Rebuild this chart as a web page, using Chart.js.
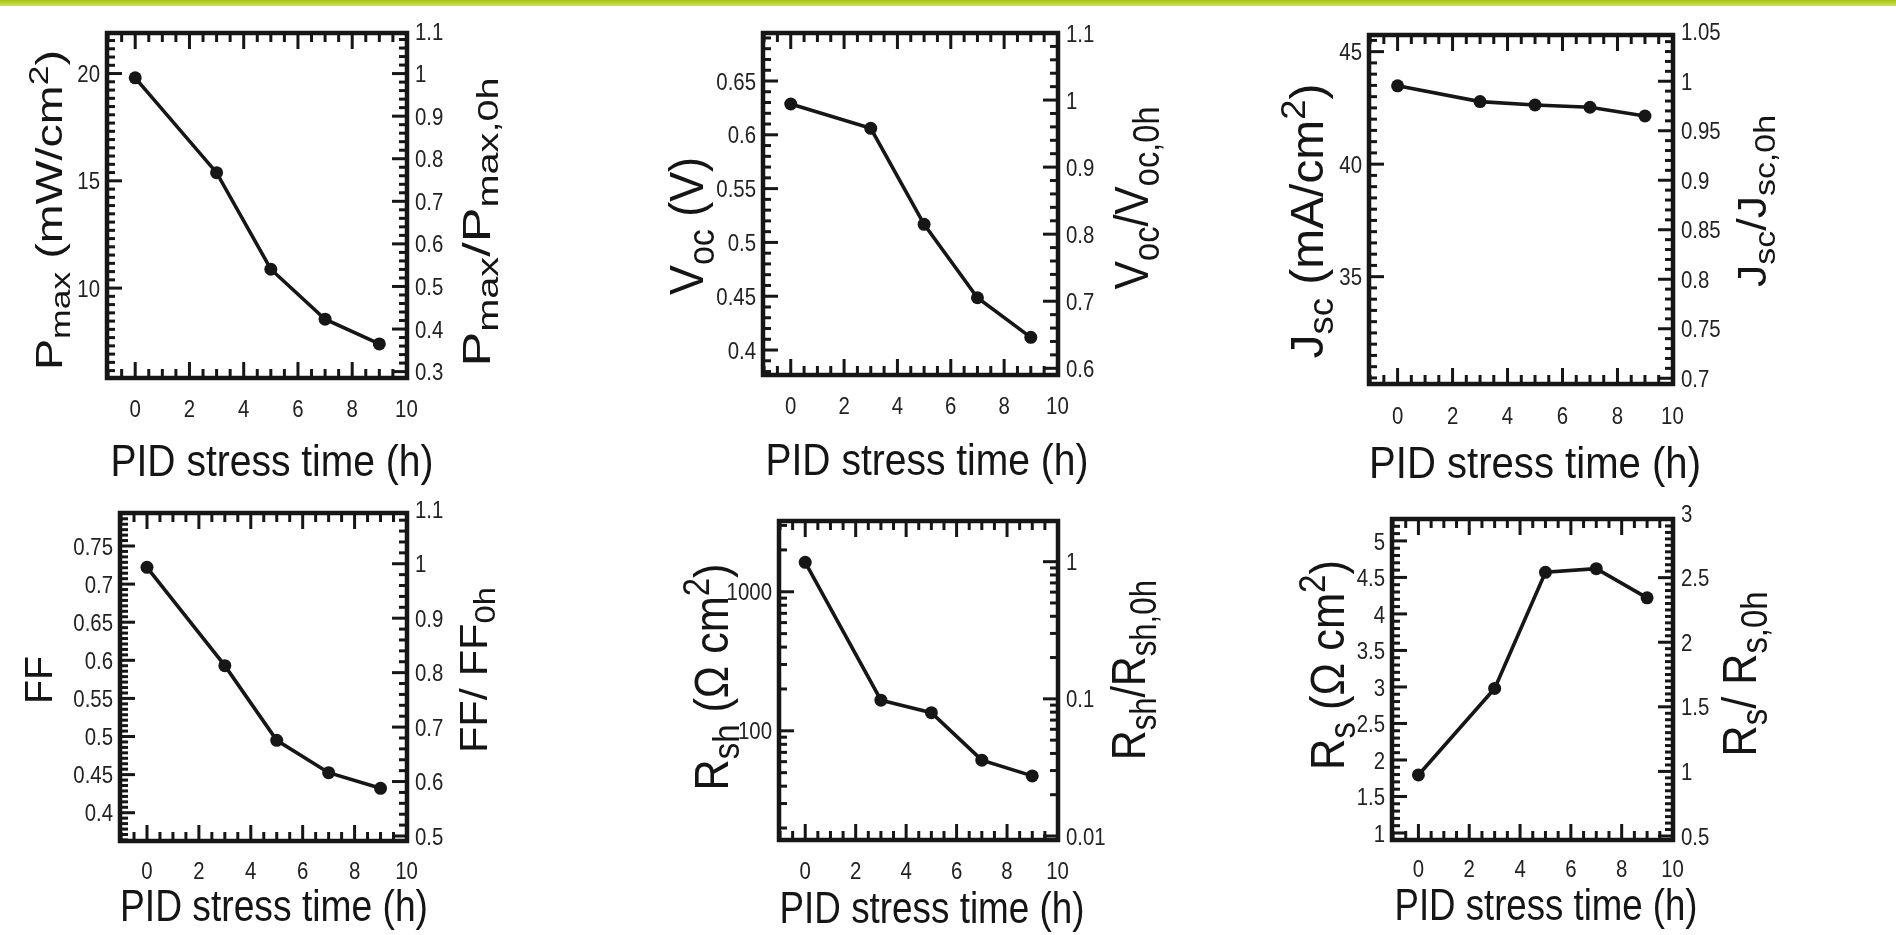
<!DOCTYPE html>
<html>
<head>
<meta charset="utf-8">
<script src="https://cdn.jsdelivr.net/npm/chart.js@4.4.1/dist/chart.umd.min.js"></script>
<style>
  html, body { margin: 0; padding: 0; background: #fff; width: 1896px; height: 935px; overflow: hidden; }
  .topbar { position: absolute; left: 0; top: 0; width: 1896px; height: 6px; background: linear-gradient(#a6c412, #cfe25e); }
  canvas { position: absolute; left: 0; top: 0; }
</style>
</head>
<body>
<div class="topbar"></div>
<canvas id="pmax"></canvas>
<canvas id="voc"></canvas>
<canvas id="jsc"></canvas>
<canvas id="ff"></canvas>
<canvas id="rsh"></canvas>
<canvas id="rs"></canvas>
<script>
const W = 1896, H = 935;
const FONT = '"Liberation Sans", Arial, Helvetica, sans-serif';
const INK = '#161616';

// PID stress time of the measurements (h)
const hours = [0, 3, 5, 7, 9];

const pmax = [19.8, 15.38, 10.88, 8.55, 7.4];        // mW/cm2
const voc = [0.6286, 0.606, 0.5168, 0.4486, 0.4118];  // V
const jsc = [43.48, 42.78, 42.63, 42.53, 42.14];      // mA/cm2
const ff = [0.722, 0.593, 0.495, 0.4525, 0.432];
const rsh = [1627, 166, 135, 61.5, 47.4];             // ohm cm2
const rs = [1.795, 2.98, 4.57, 4.62, 4.22];           // ohm cm2

// tick labels
const timeTicks = [0, 2, 4, 6, 8, 10];
const pmaxTicks = [10, 15, 20];
const pmaxNormTicks = [0.3, 0.4, 0.5, 0.6, 0.7, 0.8, 0.9, 1, 1.1];
const vocTicks = [0.4, 0.45, 0.5, 0.55, 0.6, 0.65];
const vocNormTicks = [0.6, 0.7, 0.8, 0.9, 1, 1.1];
const jscTicks = [35, 40, 45];
const jscNormTicks = [0.7, 0.75, 0.8, 0.85, 0.9, 0.95, 1, 1.05];
const ffTicks = [0.4, 0.45, 0.5, 0.55, 0.6, 0.65, 0.7, 0.75];
const ffNormTicks = [0.5, 0.6, 0.7, 0.8, 0.9, 1, 1.1];
const rshTicks = [100, 1000];
const rshNormTicks = [0.01, 0.1, 1];
const rsTicks = [1, 1.5, 2, 2.5, 3, 3.5, 4, 4.5, 5];
const rsNormTicks = [0.5, 1, 1.5, 2, 2.5, 3];

const X_MIN = -1.04, X_MAX = 10.02;

// layout of the six panels (pixel boxes, axis ranges, titles)
const panels = [
  {
    id: 'pmax', values: pmax, box: [107, 33, 407, 378], xLabelY: 408,
    left: { min: 5.81, max: 21.89, ticks: pmaxTicks, per: 13 },
    right: { min: 0.285, max: 1.0953, ticks: pmaxNormTicks, per: 5 },
    xTitle: { cx: 272, y: 476, size: 44, len: 323 },
    leftTitle: { parts: [['P'], ['max', 'sub'], [' (mW/cm'], ['2', 'sup'], [')']], x: 62, cy: 210, size: 36, len: 320 },
    rightTitle: { parts: [['P'], ['max', 'sub'], ['/P'], ['max,0h', 'sub']], x: 490, cy: 222, size: 38, len: 289 }
  },
  {
    id: 'voc', values: voc, box: [763, 33, 1058, 375], xLabelY: 405,
    left: { min: 0.3768, max: 0.6946, ticks: vocTicks, per: 5 },
    right: { min: 0.59, max: 1.1, ticks: vocNormTicks, per: 5 },
    xTitle: { cx: 927, y: 475, size: 44, len: 323 },
    leftTitle: { parts: [['V'], ['oc', 'sub'], [' (V)']], x: 703, cy: 226, size: 48, len: 138 },
    rightTitle: { parts: [['V'], ['oc', 'sub'], ['/V'], ['oc,0h', 'sub']], x: 1148, cy: 198, size: 48, len: 183 }
  },
  {
    id: 'jsc', values: jsc, box: [1369, 35, 1673, 384], xLabelY: 415,
    left: { min: 30.23, max: 45.74, ticks: jscTicks, per: 10 },
    right: { min: 0.6942, max: 1.0467, ticks: jscNormTicks, per: 5 },
    xTitle: { cx: 1535, y: 478, size: 44, len: 332 },
    leftTitle: { parts: [['J'], ['sc', 'sub'], [' (mA/cm'], ['2', 'sup'], [')']], x: 1323, cy: 221, size: 46, len: 275 },
    rightTitle: { parts: [['J'], ['sc', 'sub'], ['/J'], ['sc,0h', 'sub']], x: 1766, cy: 201, size: 40, len: 172 }
  },
  {
    id: 'ff', values: ff, box: [120, 513, 407, 841], xLabelY: 870,
    left: { min: 0.3629, max: 0.7933, ticks: ffTicks, per: 7 },
    right: { min: 0.4908, max: 1.0932, ticks: ffNormTicks, per: 5 },
    xTitle: { cx: 274, y: 921, size: 44, len: 308 },
    leftTitle: { parts: [['FF']], x: 52, cy: 680, size: 38, len: 48 },
    rightTitle: { parts: [['FF/ FF'], ['0h', 'sub']], x: 487, cy: 670, size: 38, len: 166 }
  },
  {
    id: 'rsh', values: rsh, box: [779, 521, 1058, 840], xLabelY: 870, log: true,
    left: { min: 16.4, max: 3228, ticks: rshTicks },
    right: { min: 0.00935, max: 1.98, ticks: rshNormTicks },
    xTitle: { cx: 932, y: 923, size: 44, len: 305 },
    leftTitle: { parts: [['R'], ['sh', 'sub'], [' (\u03A9 cm'], ['2', 'sup'], [')']], x: 728, cy: 677, size: 48, len: 227 },
    rightTitle: { parts: [['R'], ['sh', 'sub'], ['/R'], ['sh,0h', 'sub']], x: 1145, cy: 670, size: 48, len: 180 }
  },
  {
    id: 'rs', values: rs, box: [1392, 519, 1673, 840], xLabelY: 868,
    left: { min: 0.904, max: 5.3, ticks: rsTicks, per: 5 },
    right: { min: 0.469, max: 2.954, ticks: rsNormTicks, per: 10 },
    xTitle: { cx: 1546, y: 920, size: 44, len: 303 },
    leftTitle: { parts: [['R'], ['s', 'sub'], [' (\u03A9 cm'], ['2', 'sup'], [')']], x: 1344, cy: 665, size: 48, len: 210 },
    rightTitle: { parts: [['R'], ['s', 'sub'], ['/ R'], ['s,0h', 'sub']], x: 1756, cy: 674, size: 48, len: 165 }
  }
];

// tick positions (major + minor) for one axis
function marks(axis, log, min, max) {
  const out = [];
  if (log) {
    for (let n = Math.floor(Math.log10(min)); n <= Math.ceil(Math.log10(max)); n++) {
      for (let k = 1; k <= 9; k++) {
        const v = k * Math.pow(10, n);
        if (v >= min && v <= max) out.push({ v, major: k === 1 });
      }
    }
    return out;
  }
  const m0 = axis.ticks[0];
  const step = (axis.ticks[1] - axis.ticks[0]) / axis.per;
  const i0 = Math.ceil((min - m0) / step - 1e-6);
  const i1 = Math.floor((max - m0) / step + 1e-6);
  for (let i = i0; i <= i1; i++) {
    out.push({ v: m0 + i * step, major: ((i % axis.per) + axis.per) % axis.per === 0 });
  }
  return out;
}

function fontFor(kind, size) {
  const s = kind ? size * 0.76 : size;
  return s.toFixed(1) + 'px ' + FONT;
}

function drawRich(ctx, t, rotate) {
  ctx.save();
  let nat = 0;
  t.parts.forEach(([s, kind]) => { ctx.font = fontFor(kind, t.size); nat += ctx.measureText(s).width; });
  if (rotate) { ctx.translate(t.x, t.cy); ctx.rotate(-Math.PI / 2); }
  else ctx.translate(t.cx, t.y);
  ctx.scale(t.len / nat, 1);
  ctx.textAlign = 'left';
  ctx.textBaseline = 'alphabetic';
  ctx.fillStyle = '#151515';
  let cx = -nat / 2;
  t.parts.forEach(([s, kind]) => {
    ctx.font = fontFor(kind, t.size);
    const dy = kind === 'sub' ? t.size * 0.22 : kind === 'sup' ? -t.size * 0.4 : 0;
    ctx.fillText(s, cx, dy);
    cx += ctx.measureText(s).width;
  });
  ctx.restore();
}

function tickLabel(ctx, text, x, y, align) {
  ctx.save();
  ctx.translate(x, y);
  ctx.scale(0.85, 1);
  ctx.font = '24px ' + FONT;
  ctx.fillStyle = '#222';
  ctx.textAlign = align;
  ctx.textBaseline = 'alphabetic';
  ctx.fillText(text, 0, 8.6);
  ctx.restore();
}

// frame, inward ticks, labels and titles, all placed with the chart's scales
function decor(p) {
  return {
    id: 'decor',
    afterDraw(chart) {
      const ctx = chart.ctx, a = chart.chartArea;
      const sx = chart.scales.x, sy = chart.scales.y, sy2 = chart.scales.y2;
      const t = 3; // tick thickness

      ctx.save();
      ctx.fillStyle = INK;
      marks({ ticks: timeTicks, per: 4 }, false, X_MIN, X_MAX).forEach(m => {
        const px = sx.getPixelForValue(m.v);
        const len = m.major ? 16 : 9;
        ctx.fillRect(px - t / 2, a.bottom - len, t, len);
        ctx.fillRect(px - t / 2, a.top, t, len);
      });
      marks(p.left, p.log, p.left.min, p.left.max).forEach(m => {
        const py = sy.getPixelForValue(m.v);
        ctx.fillRect(a.left, py - t / 2, m.major ? 15 : 8, t);
      });
      marks(p.right, p.log, p.right.min, p.right.max).forEach(m => {
        const py = sy2.getPixelForValue(m.v);
        const len = m.major ? 15 : 8;
        ctx.fillRect(a.right - len, py - t / 2, len, t);
      });
      ctx.strokeStyle = INK;
      ctx.lineWidth = 4.5;
      ctx.strokeRect(a.left, a.top, a.right - a.left, a.bottom - a.top);
      ctx.restore();

      timeTicks.forEach(v => tickLabel(ctx, String(v), sx.getPixelForValue(v), p.xLabelY, 'center'));
      p.left.ticks.forEach(v => tickLabel(ctx, String(v), a.left - 7, sy.getPixelForValue(v), 'right'));
      p.right.ticks.forEach(v => tickLabel(ctx, String(v), a.right + 8, sy2.getPixelForValue(v), 'left'));

      drawRich(ctx, { parts: [['PID stress time (h)']], ...p.xTitle }, false);
      drawRich(ctx, p.leftTitle, true);
      drawRich(ctx, p.rightTitle, true);
    }
  };
}

panels.forEach(p => {
  const canvas = document.getElementById(p.id);
  canvas.width = W; canvas.height = H;
  canvas.style.width = W + 'px'; canvas.style.height = H + 'px';
  const type = p.log ? 'logarithmic' : 'linear';
  new Chart(canvas, {
    type: 'line',
    data: {
      datasets: [{
        data: hours.map((h, i) => ({ x: h, y: p.values[i] })),
        borderColor: INK,
        backgroundColor: INK,
        borderWidth: 3.6,
        pointRadius: 6.5,
        pointBorderWidth: 0,
        pointBackgroundColor: INK,
        tension: 0,
        clip: false
      }]
    },
    options: {
      responsive: false,
      animation: false,
      events: [],
      layout: { padding: { left: p.box[0], top: p.box[1], right: W - p.box[2], bottom: H - p.box[3] } },
      plugins: { legend: { display: false }, tooltip: { enabled: false } },
      scales: {
        x: { type: 'linear', min: X_MIN, max: X_MAX, display: false },
        y: { type, min: p.left.min, max: p.left.max, display: false },
        y2: { type, position: 'right', min: p.right.min, max: p.right.max, display: false }
      }
    },
    plugins: [decor(p)]
  });
});
</script>
</body>
</html>
